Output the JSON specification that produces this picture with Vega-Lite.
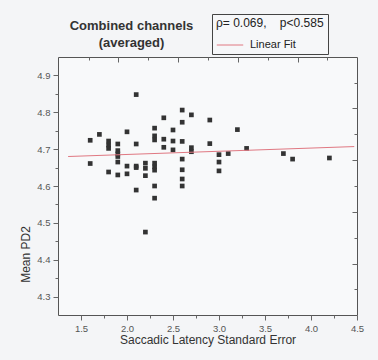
{
  "$schema": "https://vega.github.io/schema/vega-lite/v6.json",
  "width": 299,
  "height": 258,
  "autosize": {"type": "none"},
  "padding": {"left": 58, "top": 57, "right": 21, "bottom": 45},
  "background": "#f4f5f7",
  "config": {
    "font": "Liberation Sans",
    "view": {"stroke": "#555555", "strokeWidth": 1, "fill": "#f8f9fa"},
    "axis": {"grid": false, "domain": false, "tickColor": "#666666", "labelColor": "#555555", "labelFontSize": 9.5, "titleFontSize": 12, "titleFontWeight": "normal", "titleColor": "#333333", "labelFlush": false, "labelOverlap": false}
  },
  "title": {"text": ["Combined channels", "(averaged)"], "fontSize": 13, "fontWeight": "bold", "color": "#333333", "anchor": "middle", "frame": "group", "dx": -76, "dy": 44, "offset": 8, "lineHeight": 17},
  "datasets": {
    "pts": [
      {"x": 1.6, "y": 4.724}, {"x": 1.6, "y": 4.661}, {"x": 1.7, "y": 4.740},
      {"x": 1.8, "y": 4.722}, {"x": 1.8, "y": 4.711}, {"x": 1.8, "y": 4.702}, {"x": 1.8, "y": 4.638},
      {"x": 1.9, "y": 4.714}, {"x": 1.9, "y": 4.696}, {"x": 1.9, "y": 4.687}, {"x": 1.9, "y": 4.680}, {"x": 1.9, "y": 4.665}, {"x": 1.9, "y": 4.630},
      {"x": 2.0, "y": 4.747}, {"x": 2.0, "y": 4.654}, {"x": 2.0, "y": 4.633},
      {"x": 2.1, "y": 4.848}, {"x": 2.1, "y": 4.714}, {"x": 2.1, "y": 4.654}, {"x": 2.1, "y": 4.650}, {"x": 2.1, "y": 4.589},
      {"x": 2.2, "y": 4.662}, {"x": 2.2, "y": 4.648}, {"x": 2.2, "y": 4.628}, {"x": 2.2, "y": 4.475},
      {"x": 2.3, "y": 4.757}, {"x": 2.3, "y": 4.736}, {"x": 2.3, "y": 4.725}, {"x": 2.3, "y": 4.662}, {"x": 2.3, "y": 4.652}, {"x": 2.3, "y": 4.643}, {"x": 2.3, "y": 4.600}, {"x": 2.3, "y": 4.567},
      {"x": 2.4, "y": 4.785}, {"x": 2.4, "y": 4.727}, {"x": 2.4, "y": 4.705},
      {"x": 2.5, "y": 4.752}, {"x": 2.5, "y": 4.722}, {"x": 2.5, "y": 4.698},
      {"x": 2.6, "y": 4.806}, {"x": 2.6, "y": 4.773}, {"x": 2.6, "y": 4.721}, {"x": 2.6, "y": 4.673}, {"x": 2.6, "y": 4.644}, {"x": 2.6, "y": 4.619}, {"x": 2.6, "y": 4.600},
      {"x": 2.7, "y": 4.793}, {"x": 2.7, "y": 4.704}, {"x": 2.7, "y": 4.693},
      {"x": 2.9, "y": 4.779}, {"x": 2.9, "y": 4.715},
      {"x": 3.0, "y": 4.685}, {"x": 3.0, "y": 4.665}, {"x": 3.0, "y": 4.641},
      {"x": 3.1, "y": 4.688}, {"x": 3.2, "y": 4.753}, {"x": 3.3, "y": 4.702},
      {"x": 3.7, "y": 4.688}, {"x": 3.8, "y": 4.673}, {"x": 4.2, "y": 4.676}
    ],
    "fit": [{"x": 1.36, "y": 4.680}, {"x": 4.47, "y": 4.707}]
  },
  "layer": [
    {
      "data": {"name": "pts"},
      "mark": {"type": "square", "size": 22, "color": "#333333", "opacity": 1, "filled": true},
      "encoding": {
        "x": {"field": "x", "type": "quantitative", "scale": {"domain": [1.25, 4.5], "nice": false, "zero": false},
          "axis": {"orient": "bottom", "values": [1.5, 2, 2.5, 3, 3.5, 4, 4.5], "format": ".1f", "title": "Saccadic Latency Standard Error", "tickSize": 5, "labelPadding": 3, "titlePadding": 2}},
        "y": {"field": "y", "type": "quantitative", "scale": {"domain": [4.25, 4.95], "nice": false, "zero": false},
          "axis": {"orient": "left", "values": [4.3, 4.4, 4.5, 4.6, 4.7, 4.8, 4.9], "format": ".1f", "title": "Mean PD2", "tickSize": 5, "labelPadding": 3, "titlePadding": 4, "titleY": 197}}
      }
    },
    {
      "data": {"name": "fit"},
      "mark": {"type": "line", "strokeWidth": 1, "color": "#e07882"},
      "encoding": {
        "x": {"field": "x", "type": "quantitative", "scale": {"domain": [1.25, 4.5], "nice": false, "zero": false},
          "axis": {"orient": "top", "values": [1.902, 2.554, 3.207, 3.859], "labels": false, "title": null, "tickSize": -5}},
        "y": {"field": "y", "type": "quantitative", "scale": {"domain": [4.25, 4.95], "nice": false, "zero": false},
          "axis": {"orient": "right", "values": [4.812, 4.671, 4.529, 4.388], "labels": false, "title": null, "tickSize": -5}},
        "color": {"datum": "Linear Fit", "type": "nominal", "scale": {"range": ["#e07882"]},
          "legend": {"title": "ρ= 0.069,\u00a0\u00a0\u00a0 p<0.585\u00a0\u00a0", "orient": "none", "legendX": 154, "legendY": -43, "strokeColor": "#444444", "fillColor": "#f6f7f9", "padding": 4, "titleFontSize": 12, "titleFontWeight": "normal", "titleColor": "#222222", "labelFontSize": 11, "labelColor": "#222222", "symbolType": "stroke", "symbolSize": 700, "symbolStrokeWidth": 1, "symbolStrokeColor": "#e07882", "labelOffset": 6, "titlePadding": 1}}
      }
    },
    {
      "data": {"name": "pts"},
      "mark": {"type": "point", "opacity": 0},
      "encoding": {
        "x": {"field": "x", "type": "quantitative", "scale": {"domain": [1.25, 4.5], "nice": false, "zero": false},
          "axis": {"orient": "bottom", "values": [1.75, 2.25, 2.75, 3.25, 3.75, 4.25], "labels": false, "title": null, "tickSize": 3}},
        "y": {"field": "y", "type": "quantitative", "scale": {"domain": [4.25, 4.95], "nice": false, "zero": false},
          "axis": {"orient": "left", "values": [4.35, 4.45, 4.55, 4.65, 4.75, 4.85], "labels": false, "title": null, "tickSize": 3}}
      }
    },
    {
      "data": {"name": "pts"},
      "mark": {"type": "point", "opacity": 0},
      "encoding": {
        "x": {"field": "x", "type": "quantitative", "scale": {"domain": [1.25, 4.5], "nice": false, "zero": false},
          "axis": {"orient": "top", "values": [1.587, 2.228, 2.88, 3.533, 4.174], "labels": false, "title": null, "tickSize": -3}},
        "y": {"field": "y", "type": "quantitative", "scale": {"domain": [4.25, 4.95], "nice": false, "zero": false},
          "axis": {"orient": "right", "values": [4.879, 4.741, 4.6, 4.459, 4.321], "labels": false, "title": null, "tickSize": -3}}
      }
    }
  ],
  "resolve": {"scale": {"x": "shared", "y": "shared"}, "axis": {"x": "independent", "y": "independent"}}
}
